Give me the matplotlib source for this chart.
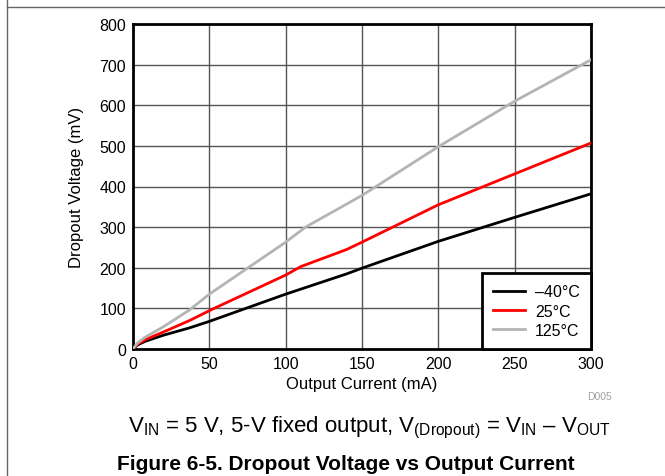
import matplotlib
matplotlib.use("Agg")
import matplotlib.pyplot as plt
from matplotlib.lines import Line2D

plt.rcParams["font.family"] = ["Liberation Sans", "DejaVu Sans"]
plt.rcParams["mathtext.fontset"] = "custom"
plt.rcParams["mathtext.rm"] = "Liberation Sans"
plt.rcParams["mathtext.default"] = "regular"

# output current (mA) and dropout voltage (mV)
i_m40 = [0, 3, 8, 20, 37, 50, 100, 140, 150, 200, 250, 300]
v_m40 = [0, 10, 19, 34, 52, 68, 135, 185, 199, 265, 324, 382]
i_25 = [0, 3, 8, 20, 37, 52, 100, 110, 140, 150, 200, 250, 300]
v_25 = [0, 12, 23, 42, 70, 98, 182, 203, 245, 263, 355, 431, 507]
i_125 = [0, 3, 8, 20, 37, 50, 100, 113, 150, 200, 250, 300]
v_125 = [0, 15, 29, 55, 96, 135, 263, 300, 378, 498, 610, 712]
labels = ["\u201340\u00b0C", "25\u00b0C", "125\u00b0C"]
colors = ["#000000", "#ff0000", "#b4b4b4"]

W, H = 665, 477
fig = plt.figure(figsize=(W / 100, H / 100), dpi=100)
ax = fig.add_axes([133 / W, 1 - 350 / H, (591 - 133) / W, (350 - 25) / H])

for xs, ys, lab, c in zip([i_m40, i_25, i_125], [v_m40, v_25, v_125], labels, colors):
    ax.plot(xs, ys, color=c, lw=2, label=lab, zorder=3)

ax.set_xlim(0, 300)
ax.set_ylim(0, 800)
ax.set_xticks(range(0, 301, 50))
ax.set_yticks(range(0, 801, 100))
ax.tick_params(length=0, labelsize=11.5, pad=5)
ax.grid(True, color="#555555", lw=1)
for sp in ax.spines.values():
    sp.set_linewidth(2)
ax.set_xlabel("Output Current (mA)", fontsize=12)
ax.set_ylabel("Dropout Voltage (mV)", fontsize=12)
ax.xaxis.set_label_coords(0.5, -0.083)
ax.yaxis.set_label_coords(-0.108, 0.5)

leg = ax.legend(loc="lower right", borderaxespad=0, fancybox=False, framealpha=1,
                edgecolor="black", fontsize=11.5, handlelength=2.0,
                labelspacing=0.27, borderpad=0.7, handletextpad=0.6)
leg.get_frame().set_linewidth(2)

# page frame lines
fig.add_artist(Line2D([7 / W, 7 / W], [0, 1], color="#666666", lw=1))
fig.add_artist(Line2D([7 / W, 1], [1 - 8 / H, 1 - 8 / H], color="#666666", lw=1))

fig.text(600 / W, 1 - 397 / H, "D005", fontsize=7.5, color="#a0a0a0", ha="center", va="center")
fig.text(369 / W, 1 - 428 / H,
         "V$_{IN}$ = 5 V, 5-V fixed output, V$_{(Dropout)}$ = V$_{IN}$ \u2013 V$_{OUT}$",
         fontsize=16, ha="center", va="center")
fig.text(346 / W, 1 - 465 / H, "Figure 6-5. Dropout Voltage vs Output Current",
         fontsize=15, fontweight="bold", ha="center", va="center")

fig.savefig("out.png", dpi=100)
